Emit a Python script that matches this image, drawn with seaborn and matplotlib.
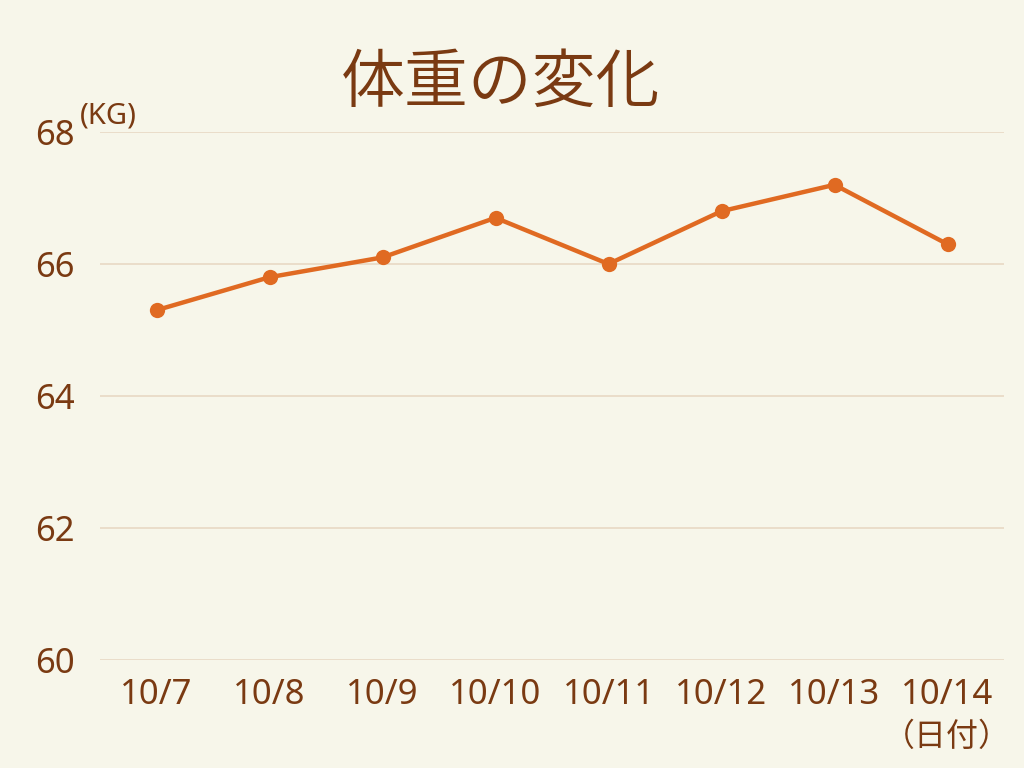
import matplotlib
matplotlib.use("Agg")
import matplotlib.pyplot as plt
import seaborn as sns
import pandas as pd

dates = ["10/7", "10/8", "10/9", "10/10", "10/11", "10/12", "10/13", "10/14"]
weights = [65.3, 65.8, 66.1, 66.7, 66.0, 66.8, 67.2, 66.3]
yticks = [60, 62, 64, 66, 68]

BG = "#F7F6EA"
TXT = "#7A3A12"
LINE = "#E06A22"
GRID = "#E8D8C4"

sns.set_theme(style="white")
plt.rcParams['font.family'] = ['Noto Sans', 'Noto Sans CJK JP', 'DejaVu Sans']

df = pd.DataFrame({"date": dates, "weight": weights})

fig = plt.figure(figsize=(10.24, 7.68), dpi=100, facecolor=BG)
ax = fig.add_axes([100/1024, 108/768, 904/1024, 528/768])
ax.set_facecolor(BG)

sns.lineplot(data=df, x="date", y="weight", ax=ax, color=LINE, linewidth=3.2,
             marker="o", markersize=11, markeredgewidth=0, sort=False)

ax.set_xlim(-0.5, len(dates) - 0.5)
ax.set_ylim(60, 68)
ax.set_yticks(yticks)
ax.set_yticklabels([str(v) for v in yticks])
ax.grid(axis="y", color=GRID, linewidth=1.2)
ax.grid(axis="x", visible=False)
for s in ax.spines.values():
    s.set_visible(False)
ax.tick_params(axis="both", length=0, labelsize=25, colors=TXT)
ax.tick_params(axis="y", pad=18)
ax.tick_params(axis="x", pad=13)
ax.set_xlabel("")
ax.set_ylabel("")

fig.text(0.489, 1 - 84/768, "体重の変化", ha="center", va="center", fontsize=46,
         color=TXT, family=['Noto Sans CJK JP'], fontweight=350)
fig.text(80/1024, 1 - 116/768, "(KG)", ha="left", va="center", fontsize=21, color=TXT)
fig.text(947/1024, 1 - 737/768, "（日付）", ha="center", va="center", fontsize=23,
         color=TXT, family=['Noto Sans CJK JP'])

fig.savefig("out.png", dpi=100, facecolor=BG)
